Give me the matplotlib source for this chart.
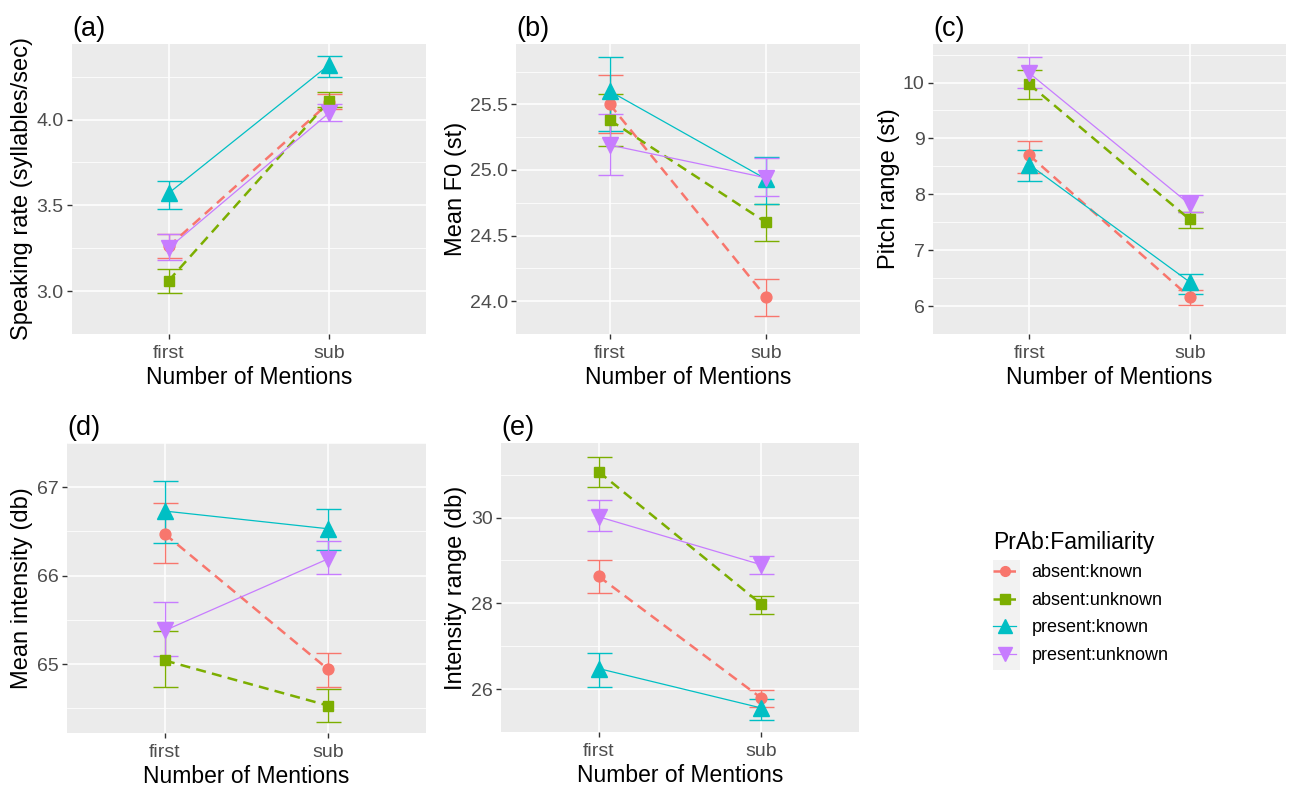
import numpy as np
import matplotlib.pyplot as plt
from matplotlib.lines import Line2D
from matplotlib.patches import Rectangle

plt.rcParams['font.family'] = ['Liberation Sans', 'DejaVu Sans']

mentions = ['first', 'sub']
groups = ['absent:known', 'absent:unknown', 'present:known', 'present:unknown']
colors = ['#F8766D', '#7CAE00', '#00BFC4', '#C77CFF']
markers = ['o', 's', '^', 'v']
msizes = [7.8, 7.4, 11, 11]
styles = ['--', '--', '-', '-']
widths = [1.8, 1.8, 0.9, 0.9]

# one row per group, values for first / sub
rate_mean = [[3.26, 4.10], [3.06, 4.11], [3.57, 4.32], [3.25, 4.04]]
rate_lo = [[3.19, 4.06], [2.99, 4.07], [3.48, 4.25], [3.18, 3.99]]
rate_hi = [[3.33, 4.15], [3.13, 4.16], [3.64, 4.37], [3.33, 4.09]]

f0_mean = [[25.50, 24.03], [25.38, 24.60], [25.60, 24.93], [25.19, 24.94]]
f0_lo = [[25.28, 23.89], [25.18, 24.46], [25.30, 24.74], [24.96, 24.80]]
f0_hi = [[25.72, 24.17], [25.58, 24.74], [25.86, 25.10], [25.43, 25.09]]

pr_mean = [[8.70, 6.16], [9.97, 7.55], [8.53, 6.43], [10.17, 7.82]]
pr_lo = [[8.39, 6.02], [9.70, 7.40], [8.23, 6.22], [9.91, 7.68]]
pr_hi = [[8.96, 6.28], [10.22, 7.68], [8.80, 6.58], [10.45, 7.98]]

int_mean = [[66.47, 64.94], [65.04, 64.53], [66.73, 66.53], [65.38, 66.19]]
int_lo = [[66.14, 64.74], [64.74, 64.34], [66.37, 66.29], [65.09, 66.02]]
int_hi = [[66.82, 65.12], [65.37, 64.72], [67.07, 66.75], [65.70, 66.39]]

ir_mean = [[28.63, 25.79], [31.07, 27.98], [26.48, 25.56], [30.02, 28.90]]
ir_lo = [[28.25, 25.59], [30.71, 27.75], [26.06, 25.28], [29.68, 28.69]]
ir_hi = [[29.01, 25.97], [31.42, 28.17], [26.84, 25.77], [30.42, 29.10]]

panels = [
    ('(a)', 'Speaking rate (syllables/sec)', rate_mean, rate_lo, rate_hi,
     [3.0, 3.5, 4.0], ['3.0', '3.5', '4.0'], (2.93, 4.44),
     [72, 44, 354, 290], -0.110),
    ('(b)', 'Mean F0 (st)', f0_mean, f0_lo, f0_hi,
     [24.0, 24.5, 25.0, 25.5], ['24.0', '24.5', '25.0', '25.5'], (23.81, 25.96),
     [516, 44, 344, 290], -0.142),
    ('(c)', 'Pitch range (st)', pr_mean, pr_lo, pr_hi,
     [6, 7, 8, 9, 10], ['6', '7', '8', '9', '10'], (5.83, 10.69),
     [933, 44, 353, 290], -0.093),
    ('(d)', 'Mean intensity (db)', int_mean, int_lo, int_hi,
     [65, 66, 67], ['65', '66', '67'], (64.22, 67.21),
     [67, 443, 359, 290], -0.095),
    ('(e)', 'Intensity range (db)', ir_mean, ir_lo, ir_hi,
     [26, 28, 30], ['26', '28', '30'], (25.03, 31.74),
     [501, 443, 358, 289], -0.095),
]

W, H = 1290, 787
fig = plt.figure(figsize=(W / 100, H / 100), dpi=100)

for title, ylabel, mean, lo, hi, ticks, ticklabels, ylim, box, labx in panels:
    x0, y0, w, h = box
    ax = fig.add_axes([x0 / W, 1 - (y0 + h) / H, w / W, h / H])
    ax.set_facecolor('#EBEBEB')
    for s in ax.spines.values():
        s.set_visible(False)
    x = np.arange(1, len(mentions) + 1)
    for i, g in enumerate(groups):
        m = np.array(mean[i])
        err = [m - np.array(lo[i]), np.array(hi[i]) - m]
        ax.errorbar(x, m, yerr=err, fmt='none', ecolor=colors[i], elinewidth=1.0,
                    capsize=9, capthick=1.0, zorder=3)
        ax.plot(x, m, linestyle=styles[i], linewidth=widths[i], color=colors[i],
                dashes=(4, 2.5) if styles[i] == '--' else (None, None), zorder=4)
        ax.plot(x, m, linestyle='none', marker=markers[i], markersize=msizes[i],
                color=colors[i], zorder=5)
    ax.set_xlim(0.4, 2.6)
    ax.set_ylim(*ylim)
    ax.set_xticks(x)
    ax.set_xticklabels(mentions)
    ax.set_yticks(ticks)
    ax.set_yticklabels(ticklabels)
    step = ticks[1] - ticks[0]
    minor = np.arange(ticks[0] - step / 2, ticks[-1] + step, step)
    ax.set_yticks(minor, minor=True)
    ax.grid(which='major', color='white', linewidth=1.1, zorder=0)
    ax.grid(which='minor', axis='y', color='white', linewidth=0.55, zorder=0)
    ax.set_axisbelow(True)
    ax.tick_params(which='major', length=3.5, width=1, color='#333333',
                   labelcolor='#4D4D4D', labelsize=14, pad=2.5)
    ax.tick_params(axis='x', which='major', pad=4.5)
    ax.tick_params(which='minor', length=0)
    ax.set_xlabel('Number of Mentions', fontsize=16.5, labelpad=3)
    ax.set_ylabel(ylabel, fontsize=17)
    ax.yaxis.set_label_coords(labx, 0.5)
    ax.set_title(title, loc='left', fontsize=19.5, pad=6)

handles = [Line2D([], [], color=colors[i], linestyle=styles[i], linewidth=widths[i],
                  marker=markers[i], markersize=msizes[i] * 0.9)
           for i in range(len(groups))]

fig.patches.append(Rectangle((993 / W, 1 - 670 / H), 27 / W, 110 / H,
                             transform=fig.transFigure, facecolor='#F2F2F2',
                             edgecolor='none', zorder=0))
leg = fig.legend(handles, groups, loc='upper left',
                 bbox_to_anchor=(993 / W, 1 - 531 / H), frameon=False,
                 title='PrAb:Familiarity', title_fontsize=16.5, fontsize=13,
                 handlelength=1.28, handletextpad=0.85, labelspacing=0.58,
                 borderpad=0, borderaxespad=0, alignment='left')

fig.savefig('out.png', dpi=100)
